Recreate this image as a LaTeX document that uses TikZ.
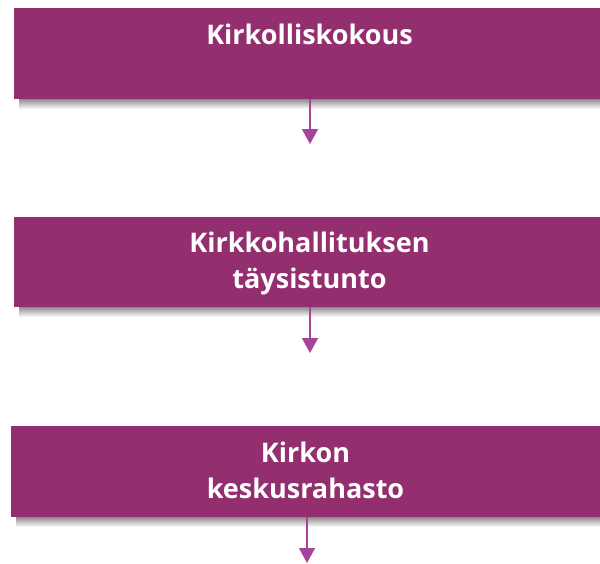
\documentclass[tikz,border=0pt]{standalone}
\usepackage{fontspec}
\setmainfont{Open Sans}
\usetikzlibrary{arrows.meta}
\definecolor{boxpurple}{HTML}{932F6F}
\definecolor{arrowpurple}{HTML}{A8439C}
\tikzset{
  orgbox/.style={draw=none, fill=boxpurple, inner sep=0pt},
  lbl/.style={text=white, font=\bfseries\fontsize{27}{32}\selectfont, anchor=base, inner sep=0pt},
  flow/.style={draw=arrowpurple, line width=1.6pt, -{Triangle[width=16pt,length=15pt]}},
}
\newcommand{\softshadow}[4]{%
  \shade[top color=black!45, bottom color=white] (#1,#3) rectangle (#2,#4);
}
\begin{document}
\begin{tikzpicture}[x=1pt,y=-1pt]
\useasboundingbox (0,0) rectangle (600,563);
% shadows
\softshadow{19}{600}{99}{109}
\softshadow{19}{600}{307}{317}
\softshadow{16}{600}{517}{527}
% boxes
\node[orgbox, minimum width=586pt, minimum height=91pt] (b1) at (307,53.5) {};
\node[orgbox, minimum width=586pt, minimum height=90pt] (b2) at (307,262) {};
\node[orgbox, minimum width=589pt, minimum height=91pt] (b3) at (305.5,471.5) {};
% labels
\node[lbl] (t1) at (309.5,44) {Kirkolliskokous};
\node[lbl] (t2a) at (309.5,252) {Kirkkohallituksen};
\node[lbl] (t2b) at (309.5,288) {täysistunto};
\node[lbl] (t3a) at (305.5,462) {Kirkon};
\node[lbl] (t3b) at (305.5,498) {keskusrahasto};
% arrow ends
\coordinate (e1) at (310,144);
\coordinate (e2) at (310,353);
\coordinate (e3) at (307,563);
\draw[flow] (b1.south -| e1) -- (e1);
\draw[flow] (b2.south -| e2) -- (e2);
\draw[flow] (b3.south -| e3) -- (e3);
\end{tikzpicture}
\end{document}
